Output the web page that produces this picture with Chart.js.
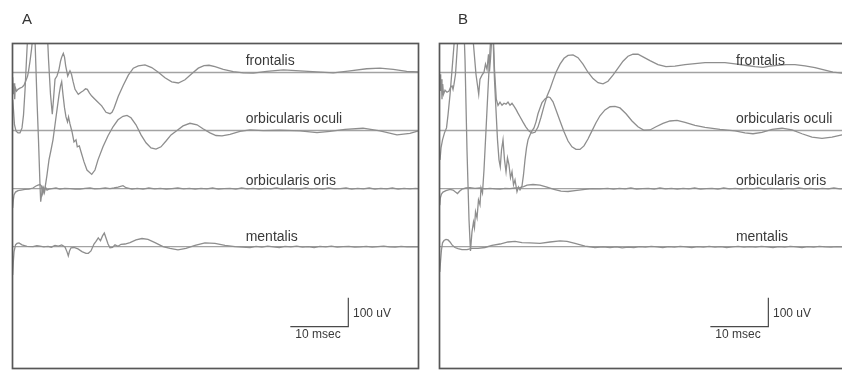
<!DOCTYPE html>
<html>
<head>
<meta charset="utf-8">
<script src="https://cdn.jsdelivr.net/npm/chart.js@4/dist/chart.umd.min.js"></script>
<style>
html,body{margin:0;padding:0;background:#fff;overflow:hidden;width:842px;height:372px;}
#wrap{position:relative;width:842px;height:372px;overflow:hidden;background:#fff;}
.panel{position:absolute;top:0;height:372px;}
#pA{left:0;width:421px;}
#pB{left:421px;width:430px;}
.letter{position:absolute;top:11px;font-family:"Liberation Sans",Arial,sans-serif;font-size:15px;line-height:15px;color:#333;}
</style>
</head>
<body>
<div id="wrap">
  <div class="panel" id="pA"><canvas id="cA" width="421" height="372" style="width:421px;height:372px"></canvas></div>
  <div class="panel" id="pB"><canvas id="cB" width="430" height="372" style="width:430px;height:372px"></canvas></div>
  <div class="letter" style="left:22px">A</div>
  <div class="letter" style="left:458px">B</div>
</div>
<script>
// ---------- data (time in msec, amplitude in uV relative to each trace's baseline) ----------
const panelLetters = ['A', 'B'];
const traceNames = ['frontalis', 'orbicularis oculi', 'orbicularis oris', 'mentalis'];
const traceOffsetsUV = [1020, 820, 620, 420];
const timeRangeMs = [0, 70];
const ampRangeUV = [0, 1120];
const labelLiftUV = [25, 27, 14, 19];
const labelTimeA = 40.2;
const labelTimeB = 51.1;
const scaleBarLabels = ['10 msec', '100 uV'];
const scaleBarA_ms = [47.9, 57.9];
const scaleBarA_uV = [144, 244];
const scaleBarB_ms = [46.7, 56.7];
const scaleBarB_uV = [144, 244];

const A_frontalis = [[0.03,-16],[0.14,-75],[0.26,-37],[0.38,-92],[0.48,-51],[0.69,-64],[0.95,-58],[1.29,-54],[1.64,-51],[1.98,-44],[2.33,-27],[2.59,-13],[2.76,4],[3.02,39],[3.28,80],[3.53,129],[3.88,218],[4.4,290],[5.43,290],[5.9,184],[6.21,46],[6.55,-75],[6.86,-144],[7.07,-92],[7.33,-23],[7.67,-12],[8.02,11],[8.28,39],[8.48,53],[8.76,66],[8.97,53],[9.17,23],[9.52,-12],[9.74,-2],[9.91,6],[10.17,-6],[10.43,-30],[10.78,-58],[11.34,-75],[11.81,-68],[12.21,-63],[12.59,-56],[12.9,-58],[13.28,-71],[13.66,-81],[14.52,-98],[15.38,-115],[16.12,-137],[16.81,-142],[17.16,-137],[17.5,-123],[18.24,-82],[19.1,-44],[19.97,-9],[20.83,15],[21.69,23],[22.84,26],[24.0,17],[25.14,1],[26.29,-18],[27.45,-32],[28.59,-36],[29.74,-25],[30.9,-4],[32.03,15],[33.02,24],[33.88,25],[34.91,20],[36.34,11],[38.07,3],[39.79,-1],[41.52,-2],[43.83,4],[46.69,9],[49.57,6],[52.45,2],[55.31,-1],[58.19,6],[61.07,13],[63.36,15],[65.66,11],[67.97,4],[70,2]];
const A_oculi = [[0.03,106],[0.17,71],[0.34,20],[0.6,-1],[0.95,-8],[1.29,-8],[1.64,9],[1.9,54],[2.16,140],[2.41,244],[2.67,347],[3.02,433],[3.53,433],[3.88,313],[4.22,106],[4.48,-32],[4.74,-187],[4.86,-245],[5.17,-198],[5.43,-215],[5.69,-187],[5.95,-153],[6.29,-101],[6.64,-67],[6.98,-32],[7.33,20],[7.67,71],[8.02,123],[8.28,154],[8.48,168],[8.71,123],[8.97,78],[9.22,47],[9.48,30],[9.66,47],[9.91,23],[10.26,-4],[10.6,-39],[10.95,-32],[11.17,-56],[11.52,-53],[11.81,-73],[12.33,-108],[12.84,-136],[13.66,-151],[14.22,-136],[14.74,-101],[15.6,-56],[16.47,-18],[17.33,13],[18.19,37],[19.05,49],[19.74,52],[20.43,44],[21.29,20],[22.16,-15],[23.02,-42],[23.88,-60],[24.74,-64],[25.6,-56],[26.47,-36],[27.33,-15],[28.36,0],[29.4,16],[30.6,25],[31.81,20],[32.84,6],[34.05,-8],[35.09,-17],[36.12,-18],[37.5,-13],[39.22,-3],[40.95,2],[43.19,0],[46.12,1],[49.57,-1],[52.5,-7],[54.74,-3],[57.33,4],[60.43,8],[63.36,-1],[66.29,-15],[68.53,-10],[70,-1]];
const A_oris = [[0.03,-67],[0.14,-40],[0.26,-22],[0.52,-12],[0.95,-7],[1.47,-5],[2.16,-3],[2.84,-2],[3.53,2],[4.05,9],[4.4,12],[4.74,14],[5.0,9],[5.17,-16],[5.34,2],[5.52,-12],[5.69,5],[5.95,-5],[6.29,-2],[6.81,0],[7.5,2],[8.19,-2],[9.0,1],[9.91,0],[10.8,-2],[11.64,-2],[12.5,1],[13.36,2],[14.2,-1],[15.09,0],[16.0,2],[16.81,0],[17.5,2],[18.19,5],[19.05,10],[19.57,3],[20.6,-2],[21.5,1],[22.5,-2],[23.5,2],[24.5,-1],[25.5,1],[26.5,-2],[27.5,0],[28.5,2],[29.5,-1],[30.5,1],[31.5,-2],[32.5,1],[33.5,-1],[34.5,2],[35.5,-2],[36.5,0],[37.5,1],[38.5,-2],[39.5,2],[40.5,-1],[41.5,1],[42.5,-2],[43.5,1],[44.5,-1],[45.5,2],[46.5,-2],[47.5,1],[48.5,0],[49.5,-2],[50.5,2],[51.5,-1],[52.5,1],[53.5,-2],[54.5,2],[55.5,-1],[56.5,0],[57.5,2],[58.5,-2],[59.5,1],[60.5,-1],[61.5,2],[62.5,-2],[63.5,1],[64.5,-1],[65.5,2],[66.5,-2],[67.5,1],[68.5,-1],[69.5,1],[70,0]];
const A_mentalis = [[0.03,-98],[0.14,-53],[0.26,-18],[0.52,6],[0.78,11],[1.12,13],[1.64,6],[2.5,1],[3.53,0],[4.2,3],[4.74,2],[5.4,-1],[6.12,1],[6.7,-2],[7.33,4],[7.9,2],[8.48,6],[9.05,-1],[9.4,-18],[9.62,-32],[9.83,-15],[10.09,-4],[10.6,-3],[11.29,-8],[11.98,-17],[12.67,-23],[13.07,-23],[13.53,-15],[14.05,9],[14.4,18],[14.79,30],[15.17,20],[15.52,37],[15.83,47],[16.12,30],[16.47,9],[16.81,-4],[17.24,-3],[17.67,6],[18.19,1],[18.71,8],[19.4,9],[20.26,14],[21.29,23],[22.33,28],[23.36,25],[24.57,14],[25.95,0],[27.16,-6],[28.53,-11],[29.91,-6],[31.47,4],[33.19,13],[34.91,11],[36.64,4],[38.36,0],[40.95,-3],[42,1],[43,-2],[44,2],[45,-1],[46,-3],[47,1],[48,-1],[49,2],[50,-2],[51,0],[52,-3],[53,1],[54,-1],[55,2],[56,-2],[57,0],[58,1],[59,-2],[60,-1],[61,1],[62,-2],[63,0],[64,2],[65,-1],[66,-2],[67,1],[68,-1],[69,0],[70,-1]];

const B_frontalis = [[0.09,-6],[0.21,-64],[0.31,-23],[0.43,-92],[0.55,-40],[0.69,-75],[0.95,-61],[1.29,-68],[1.64,-64],[1.9,-51],[2.16,-46],[2.33,-58],[2.5,-40],[2.76,-6],[2.93,46],[3.1,98],[3.28,149],[3.53,253],[5.26,253],[5.78,115],[6.29,-6],[6.76,-75],[6.98,-23],[7.33,-9],[7.67,1],[7.93,29],[8.19,11],[8.45,63],[8.62,4],[8.79,46],[9.05,132],[9.22,167],[9.48,11],[9.79,-92],[10.09,-113],[10.43,-102],[10.78,-113],[11.12,-106],[11.47,-109],[11.81,-102],[12.16,-113],[12.5,-106],[12.84,-116],[13.19,-127],[13.53,-140],[13.93,-154],[14.4,-171],[14.91,-188],[15.43,-202],[15.95,-209],[16.47,-206],[16.98,-188],[17.5,-154],[18.02,-116],[18.53,-82],[19.1,-54],[19.57,-27],[20.09,1],[20.78,29],[21.47,49],[22.16,59],[23.02,61],[23.88,51],[24.74,29],[25.6,1],[26.47,-21],[27.33,-35],[28.19,-39],[29.05,-30],[29.91,-9],[30.78,15],[31.64,39],[32.5,56],[33.36,63],[34.22,63],[35.09,54],[36.29,41],[37.67,27],[39.05,20],[40.6,22],[42.33,27],[44.05,31],[45.78,34],[47.5,34],[49.22,34],[50.95,30],[52.67,25],[54.4,20],[55.78,18],[56.98,22],[58.36,25],[59.74,27],[61.29,27],[63.02,23],[64.74,17],[66.47,8],[67.84,1],[69.4,-2],[70,-3]];
const B_oculi = [[0.09,-101],[0.26,-60],[0.52,-32],[0.86,-8],[1.21,9],[1.47,54],[1.81,123],[2.16,209],[2.5,295],[2.84,382],[3.36,451],[4.05,451],[4.4,244],[4.74,-67],[5.09,-308],[5.34,-415],[5.6,-349],[5.86,-315],[6.03,-335],[6.21,-280],[6.47,-301],[6.72,-239],[6.98,-256],[7.16,-198],[7.41,-215],[7.67,-136],[8.02,2],[8.36,140],[8.71,278],[8.97,364],[9.22,330],[9.48,175],[9.74,71],[10.0,-32],[10.26,-101],[10.48,-125],[10.69,-67],[10.95,-32],[11.21,-101],[11.47,-142],[11.72,-94],[11.98,-118],[12.24,-163],[12.5,-142],[12.76,-187],[13.02,-170],[13.36,-211],[13.62,-194],[13.88,-204],[14.22,-191],[14.48,-153],[14.74,-101],[15.0,-60],[15.26,-32],[15.6,-15],[15.95,-1],[16.29,9],[16.64,30],[16.98,58],[17.33,78],[17.67,96],[18.19,109],[18.71,116],[19.05,114],[19.57,99],[20.09,71],[20.78,33],[21.47,-4],[22.16,-36],[22.84,-56],[23.53,-65],[24.22,-65],[24.91,-53],[25.6,-29],[26.29,-1],[26.98,27],[27.67,51],[28.53,71],[29.4,82],[30.26,83],[31.12,78],[32.16,58],[33.19,33],[34.22,13],[35.26,1],[36.29,2],[37.33,13],[38.53,25],[39.74,33],[40.95,35],[42.33,28],[44.05,18],[45.78,11],[48.36,4],[50.95,-1],[52.67,-8],[54.05,-11],[55.6,-6],[57.33,4],[59.05,8],[60.78,2],[62.5,-11],[64.22,-23],[65.95,-27],[67.67,-23],[69.4,-15],[70,-12]];
const B_oris = [[0.05,-57],[0.14,-33],[0.34,-19],[0.6,-12],[1.12,-7],[1.81,-3],[2.33,-5],[2.76,-12],[3.1,-17],[3.45,-9],[3.88,-2],[4.57,2],[5.26,3],[6.12,1],[6.98,2],[7.84,-1],[8.71,1],[9.6,-1],[10.43,-2],[11.3,1],[12.16,0],[13.0,2],[13.88,3],[14.5,7],[15.09,12],[16.12,14],[17.33,12],[18.53,5],[19.74,-3],[20.95,-9],[22.16,-10],[23.36,-7],[25.09,-3],[26.3,0],[27.67,-1],[29,1],[30,-2],[31,1],[32,-1],[33,2],[34,-2],[35,0],[36,1],[37,-2],[38,2],[39,-1],[40,1],[41,-2],[42,1],[43,-1],[44,2],[45,-2],[46,0],[47,1],[48,-2],[49,2],[50,-1],[51,1],[52,-2],[53,1],[54,-1],[55,2],[56,-2],[57,1],[58,0],[59,-2],[60,1],[61,-1],[62,2],[63,-1],[64,1],[65,-2],[66,1],[67,-1],[68,2],[69,-1],[70,0]];
const B_mentalis = [[0.05,-87],[0.17,-53],[0.34,-11],[0.52,13],[0.78,21],[1.12,25],[1.47,23],[1.81,16],[2.16,6],[2.67,-3],[3.19,-7],[3.88,-10],[4.74,-10],[5.6,-6],[6.64,-6],[7.84,-3],[9.05,4],[10.43,9],[11.81,16],[13.02,18],[14.22,14],[15.6,13],[17.33,11],[19.05,16],[20.78,20],[21.98,18],[23.36,11],[25.09,2],[26.81,-3],[28.2,-1],[29.4,-3],[30.5,-1],[31.5,-4],[32.5,-2],[33.5,-3],[34.5,0],[35.5,-2],[36.5,1],[37.5,-1],[38.5,-3],[39.5,0],[40.5,-2],[41.5,1],[42.5,-1],[43.5,-3],[44.5,0],[45.5,-2],[46.5,1],[47.5,-2],[48.5,0],[49.5,-3],[50.5,-1],[51.5,1],[52.5,-2],[53.5,0],[54.5,-2],[55.5,1],[56.5,-1],[57.5,-3],[58.5,0],[59.5,-2],[60.5,1],[61.5,-1],[62.5,-3],[63.5,0],[64.5,-2],[65.5,1],[66.5,-1],[67.5,-2],[68.5,0],[69.5,-1],[70,-1]];

// ---------- styling ----------
const TRACE_COLOR = '#8e8e8e';
const BASE_COLOR = '#a3a3a3';
const FRAME_COLOR = '#575757';
const TEXT_COLOR = '#3a3a3a';
const FONT = '"Liberation Sans", Arial, Helvetica, sans-serif';

function toXY(pairs, offset) {
  return pairs.map(p => ({ x: p[0], y: p[1] + offset }));
}

const decorPlugin = {
  id: 'decor',
  afterDatasetsDraw(chart) {
    const o = chart.options.plugins.decor;
    const { ctx, chartArea: a } = chart;
    const x = chart.scales.x, y = chart.scales.y;
    ctx.save();
    ctx.fillStyle = TEXT_COLOR;
    ctx.font = '14px ' + FONT;
    ctx.textBaseline = 'alphabetic';
    ctx.textAlign = 'left';
    traceNames.forEach((n, i) => {
      ctx.fillText(n, x.getPixelForValue(o.labelTime), y.getPixelForValue(traceOffsetsUV[i] + labelLiftUV[i]));
    });
    ctx.font = '12px ' + FONT;
    ctx.textBaseline = 'middle';
    ctx.fillText(scaleBarLabels[0], x.getPixelForValue(o.barMs[0] + 0.86), y.getPixelForValue(o.barUV[0] - 28));
    ctx.fillText(scaleBarLabels[1], x.getPixelForValue(o.barMs[1] + 0.8), y.getPixelForValue(o.barUV[0] + 46));
    ctx.strokeStyle = FRAME_COLOR;
    ctx.lineWidth = 1.7;
    ctx.strokeRect(a.left, a.top, a.right - a.left, a.bottom - a.top);
    ctx.restore();
  }
};

function makePanel(canvasId, traces, labelTime, barMs, barUV, pad) {
  const datasets = [];
  traceOffsetsUV.forEach(off => {
    datasets.push({
      data: [{ x: timeRangeMs[0], y: off }, { x: timeRangeMs[1], y: off }],
      borderColor: BASE_COLOR, borderWidth: 1.4, pointRadius: 0, clip: 0, order: 2
    });
  });
  traces.forEach((tr, i) => {
    datasets.push({
      data: toXY(tr, traceOffsetsUV[i]),
      borderColor: TRACE_COLOR, borderWidth: 1.3, pointRadius: 0, tension: 0, clip: 0, order: 1
    });
  });
  datasets.push({
    data: [{ x: barMs[0], y: barUV[0] }, { x: barMs[1], y: barUV[0] }, { x: barMs[1], y: barUV[1] }],
    borderColor: '#4a4a4a', borderWidth: 1.2, pointRadius: 0, clip: 0, order: 0
  });
  return new Chart(document.getElementById(canvasId), {
    type: 'line',
    data: { datasets },
    options: {
      responsive: false,
      devicePixelRatio: 1,
      animation: false,
      parsing: true,
      layout: { padding: pad },
      scales: {
        x: { type: 'linear', min: timeRangeMs[0], max: timeRangeMs[1], display: false },
        y: { type: 'linear', min: ampRangeUV[0], max: ampRangeUV[1], display: false }
      },
      plugins: {
        legend: { display: false },
        tooltip: { enabled: false },
        decor: { labelTime, barMs, barUV }
      }
    },
    plugins: [decorPlugin]
  });
}

makePanel('cA', [A_frontalis, A_oculi, A_oris, A_mentalis], labelTimeA, scaleBarA_ms, scaleBarA_uV,
  { left: 12.5, top: 43.5, right: 2.5, bottom: 3.5 });
makePanel('cB', [B_frontalis, B_oculi, B_oris, B_mentalis], labelTimeB, scaleBarB_ms, scaleBarB_uV,
  { left: 18.5, top: 43.5, right: 5.5, bottom: 3.5 });
</script>
</body>
</html>
